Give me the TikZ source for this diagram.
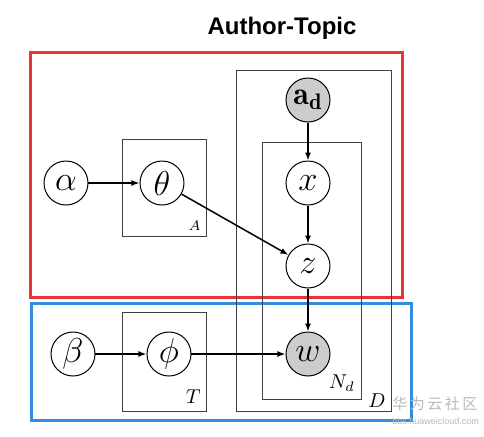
\documentclass[tikz,border=0pt]{standalone}
\usepackage{amsmath}
\usepackage{amssymb}
\usepackage{fontspec}
\newfontfamily\titlefont{Liberation Sans}
\newfontfamily\cjk{Noto Sans CJK SC}
\usetikzlibrary{arrows.meta}
\definecolor{boxred}{RGB}{232,52,52}
\definecolor{boxblue}{RGB}{52,140,222}

\begin{document}
\begin{tikzpicture}[x=0.5pt,y=-0.5pt,
    var/.style={circle,draw,line width=0.5pt,minimum size=22pt,inner sep=0pt,
                font=\fontsize{16}{18}\selectfont},
    obs/.style={var,fill=gray!40},
    plate/.style={draw=black!75,line width=0.5pt},
    platelabel/.style={anchor=south east,inner sep=1pt,font=\fontsize{10}{12}\selectfont},
    edge/.style={-{Latex[length=4pt,width=3pt]},line width=0.75pt}]
    \useasboundingbox (0,0) rectangle (484,436);
    \node[font=\titlefont\bfseries\fontsize{12}{14}\selectfont] (title) at (282,28) {Author-Topic};
    \draw[boxred,line width=1.5pt] (31,52) rectangle (403,297);
    \draw[boxblue,line width=1.5pt] (32,303) rectangle (412,420);
    \draw[plate] (237,70) rectangle (392,411);
    \draw[plate] (263,142) rectangle (362,399);
    \draw[plate] (123,139) rectangle (207,236);
    \draw[plate] (123,312) rectangle (207,411);
    \node[platelabel,font=\fontsize{7}{8}\selectfont] (lA) at (203,233) {$A$};
    \node[platelabel] (lT) at (203,406) {$T$};
    \node[platelabel] (lN) at (357,394) {$N_d$};
    \node[platelabel] (lD) at (388,410) {$D$};
    \node[var] (alpha) at (66,183) {$\alpha$};
    \node[var] (theta) at (162,183) {$\theta$};
    \node[obs] (ad) at (308,100) {$\mathbf{a}_{\mathbf{d}}$};
    \node[var] (x) at (308,183) {$x$};
    \node[var] (z) at (308,266) {$z$};
    \node[obs] (w) at (308,354) {$w$};
    \node[var] (beta) at (73,354) {$\beta$};
    \node[var] (phi) at (169,354) {$\phi$};
    \draw[edge] (alpha) -- (theta);
    \draw[edge] (theta) -- (z);
    \draw[edge] (ad) -- (x);
    \draw[edge] (x) -- (z);
    \draw[edge] (z) -- (w);
    \draw[edge] (beta) -- (phi);
    \draw[edge] (phi) -- (w);
    \node[anchor=west,inner sep=0pt,text=gray!55,font=\cjk\fontsize{7.5}{9}\selectfont] (wm) at (392,404) {华\,为\,云\,社\,区};
    \node[anchor=west,inner sep=0pt,text=gray!55,font=\titlefont\fontsize{4.5}{5}\selectfont] (url) at (392,421) {bbs.huaweicloud.com};
\end{tikzpicture}
\end{document}
